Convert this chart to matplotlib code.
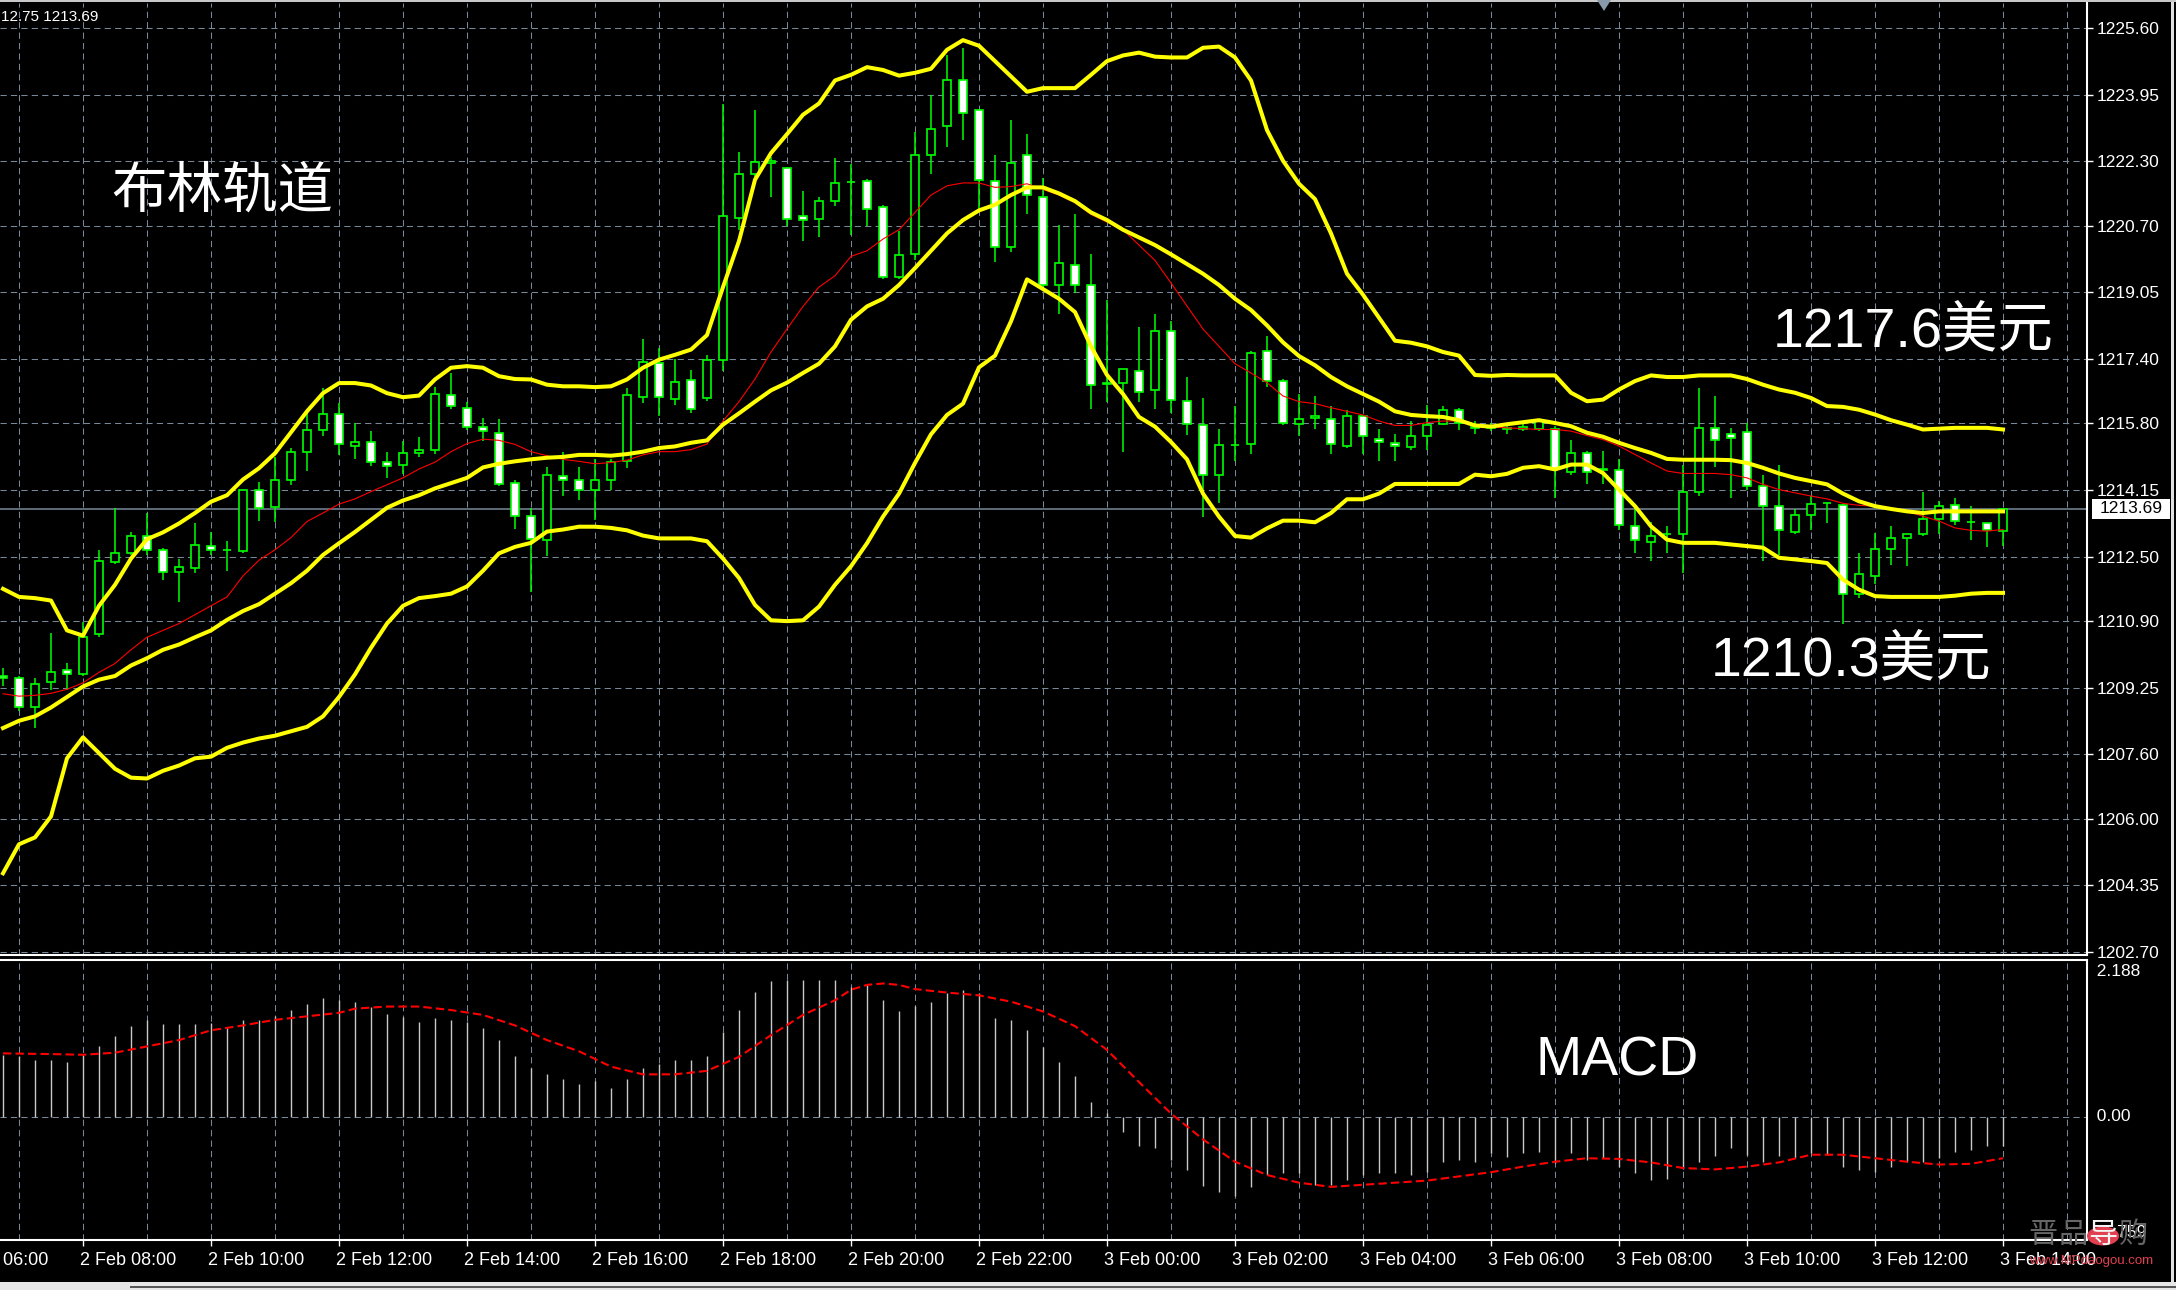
import numpy as np
import matplotlib
matplotlib.use('Agg')
import matplotlib.pyplot as plt
from matplotlib.patches import Rectangle, Polygon, Circle
from matplotlib.transforms import blended_transform_factory

# XAUUSD M15, 2 Feb 06:45 -> 3 Feb 14:00
opens = [1209.55, 1209.50, 1208.76, 1209.39, 1209.70, 1209.59, 1210.58, 1212.37, 1212.58, 1213.02,
         1212.67, 1212.12, 1212.21, 1212.77, 1212.67, 1212.65, 1214.15, 1213.74, 1214.39, 1215.09,
         1215.63, 1216.04, 1215.24, 1215.35, 1214.84, 1214.78, 1215.06, 1215.15, 1216.50, 1216.19,
         1215.70, 1215.56, 1214.32, 1213.51, 1212.90, 1214.50, 1214.39, 1214.15, 1214.39, 1214.86,
         1216.45, 1217.30, 1216.40, 1216.88, 1216.43, 1217.38, 1220.89, 1221.98, 1222.25, 1222.12,
         1220.95, 1220.87, 1221.32, 1221.79, 1221.81, 1221.17, 1219.44, 1219.99, 1222.45, 1223.16,
         1224.30, 1223.56, 1221.81, 1220.18, 1222.45, 1221.41, 1219.23, 1219.73, 1219.23, 1216.78,
         1216.81, 1217.10, 1216.62, 1218.09, 1216.36, 1215.77, 1214.53, 1215.27, 1215.29, 1217.59,
         1216.86, 1215.79, 1215.93, 1215.91, 1215.25, 1215.98, 1215.41, 1215.31, 1215.22, 1215.48,
         1215.79, 1216.14, 1215.69, 1215.68, 1215.65, 1215.67, 1215.65, 1215.65, 1214.59, 1215.07,
         1214.66, 1214.64, 1213.25, 1212.86, 1213.05, 1213.05, 1214.10, 1215.69, 1215.53, 1215.58,
         1214.24, 1213.75, 1213.10, 1213.54, 1213.82, 1213.79, 1211.56, 1212.02, 1212.68, 1212.96,
         1213.05, 1213.42, 1213.79, 1213.35, 1213.34, 1213.13]
highs = [1209.75, 1209.55, 1209.50, 1210.60, 1209.85, 1210.89, 1212.67, 1213.71, 1213.12, 1213.58,
         1212.70, 1212.43, 1213.32, 1213.10, 1212.89, 1214.16, 1214.34, 1214.97, 1215.19, 1216.06,
         1216.68, 1216.30, 1215.80, 1215.61, 1215.10, 1215.37, 1215.47, 1216.70, 1217.05, 1216.32,
         1215.93, 1215.90, 1214.40, 1213.71, 1214.71, 1215.10, 1214.71, 1214.93, 1214.93, 1216.68,
         1217.88, 1217.67, 1217.40, 1217.13, 1217.50, 1223.71, 1222.52, 1223.56, 1222.40, 1222.15,
         1221.55, 1221.41, 1222.39, 1222.22, 1221.85, 1221.22, 1220.56, 1223.02, 1223.94, 1224.92,
         1225.10, 1223.60, 1222.45, 1223.31, 1222.97, 1221.88, 1220.72, 1220.99, 1219.99, 1218.85,
         1217.15, 1218.19, 1218.50, 1218.35, 1216.95, 1216.43, 1215.67, 1216.24, 1217.60, 1217.96,
         1216.90, 1216.52, 1216.48, 1216.24, 1216.14, 1216.00, 1215.67, 1215.53, 1215.86, 1216.26,
         1216.24, 1216.18, 1215.85, 1215.80, 1215.75, 1215.80, 1215.90, 1215.73, 1215.40, 1215.11,
         1215.11, 1214.91, 1213.79, 1213.35, 1213.27, 1214.78, 1216.68, 1216.49, 1215.69, 1215.81,
         1214.51, 1214.78, 1213.67, 1214.00, 1213.84, 1213.80, 1212.58, 1213.09, 1213.25, 1213.05,
         1214.10, 1213.87, 1213.96, 1213.75, 1213.34, 1213.69]
lows = [1209.30, 1208.67, 1208.24, 1209.19, 1209.19, 1209.54, 1210.50, 1212.32, 1212.53, 1212.54,
        1211.91, 1211.37, 1212.10, 1212.54, 1212.15, 1212.60, 1213.38, 1213.35, 1214.28, 1214.63,
        1215.50, 1215.02, 1214.93, 1214.74, 1214.45, 1214.54, 1214.97, 1215.05, 1216.15, 1215.64,
        1215.37, 1214.24, 1213.19, 1211.63, 1212.51, 1213.99, 1213.89, 1213.41, 1214.15, 1214.70,
        1216.30, 1215.98, 1216.25, 1216.05, 1216.35, 1217.10, 1220.60, 1221.90, 1221.41, 1220.70,
        1220.32, 1220.41, 1221.19, 1220.46, 1220.70, 1219.37, 1219.37, 1219.84, 1221.97, 1222.64,
        1222.83, 1221.08, 1219.80, 1220.04, 1220.98, 1219.18, 1218.52, 1219.04, 1216.15, 1216.34,
        1215.10, 1216.34, 1216.15, 1216.06, 1215.51, 1213.49, 1213.82, 1214.86, 1215.05, 1216.70,
        1215.77, 1215.48, 1215.67, 1215.05, 1215.20, 1215.05, 1214.86, 1214.86, 1215.15, 1215.15,
        1215.77, 1215.63, 1215.55, 1215.60, 1215.55, 1215.60, 1215.60, 1213.96, 1214.51, 1214.29,
        1214.29, 1213.17, 1212.59, 1212.39, 1212.59, 1212.10, 1214.00, 1214.72, 1213.96, 1214.16,
        1212.39, 1212.55, 1213.05, 1213.17, 1213.34, 1210.82, 1211.48, 1211.81, 1212.30, 1212.26,
        1213.01, 1213.05, 1213.29, 1212.92, 1212.74, 1212.75]
closes = [1209.50, 1208.76, 1209.35, 1209.65, 1209.60, 1210.50, 1212.38, 1212.58, 1213.02, 1212.67,
          1212.12, 1212.23, 1212.78, 1212.67, 1212.67, 1214.16, 1213.70, 1214.41, 1215.10, 1215.64,
          1216.04, 1215.30, 1215.35, 1214.84, 1214.74, 1215.06, 1215.15, 1216.52, 1216.23, 1215.71,
          1215.60, 1214.30, 1213.51, 1212.93, 1214.51, 1214.41, 1214.15, 1214.39, 1214.84, 1216.50,
          1217.31, 1216.45, 1216.82, 1216.15, 1217.38, 1220.94, 1221.98, 1222.28, 1222.30, 1220.87,
          1220.85, 1221.32, 1221.76, 1221.79, 1221.12, 1219.44, 1219.98, 1222.45, 1223.09, 1224.30,
          1223.50, 1221.84, 1220.18, 1222.26, 1221.45, 1219.23, 1219.77, 1219.23, 1216.76, 1216.81,
          1217.15, 1216.57, 1218.09, 1216.39, 1215.79, 1214.53, 1215.27, 1215.27, 1217.55, 1216.86,
          1215.82, 1215.91, 1215.98, 1215.29, 1215.98, 1215.48, 1215.34, 1215.25, 1215.48, 1215.77,
          1216.14, 1215.81, 1215.72, 1215.70, 1215.69, 1215.71, 1215.85, 1214.66, 1215.07, 1214.59,
          1214.64, 1213.29, 1212.91, 1213.01, 1213.05, 1214.10, 1215.69, 1215.38, 1215.44, 1214.24,
          1213.75, 1213.17, 1213.54, 1213.81, 1213.84, 1211.56, 1212.06, 1212.68, 1212.96, 1213.05,
          1213.42, 1213.75, 1213.38, 1213.35, 1213.17, 1213.69]

bb_upper = [1211.70, 1211.50, 1211.47, 1211.41, 1210.67, 1210.54, 1211.28, 1211.80, 1212.45, 1212.93,
            1213.10, 1213.32, 1213.58, 1213.86, 1214.02, 1214.41, 1214.69, 1215.06, 1215.58, 1216.10,
            1216.55, 1216.80, 1216.80, 1216.74, 1216.55, 1216.45, 1216.49, 1216.89, 1217.18, 1217.22,
            1217.18, 1216.97, 1216.90, 1216.89, 1216.76, 1216.72, 1216.72, 1216.70, 1216.72, 1216.89,
            1217.18, 1217.38, 1217.50, 1217.63, 1217.99, 1219.18, 1220.32, 1221.84, 1222.50, 1222.97,
            1223.45, 1223.73, 1224.30, 1224.44, 1224.63, 1224.56, 1224.42, 1224.49, 1224.59, 1225.06,
            1225.30, 1225.16, 1224.78, 1224.40, 1224.02, 1224.11, 1224.11, 1224.11, 1224.44, 1224.78,
            1224.92, 1224.99, 1224.89, 1224.87, 1224.87, 1225.11, 1225.14, 1224.87, 1224.30, 1223.07,
            1222.31, 1221.74, 1221.36, 1220.51, 1219.51, 1218.99, 1218.42, 1217.85, 1217.80, 1217.71,
            1217.57, 1217.48, 1217.00, 1216.98, 1217.00, 1216.99, 1216.99, 1216.99, 1216.56, 1216.35,
            1216.39, 1216.64, 1216.85, 1216.99, 1216.95, 1216.95, 1216.99, 1216.99, 1216.99, 1216.90,
            1216.76, 1216.64, 1216.56, 1216.43, 1216.23, 1216.21, 1216.14, 1216.02, 1215.88, 1215.77,
            1215.65, 1215.67, 1215.69, 1215.69, 1215.69, 1215.65]
bb_middle = [1208.25, 1208.43, 1208.54, 1208.76, 1209.02, 1209.28, 1209.45, 1209.54, 1209.80, 1209.98,
             1210.19, 1210.32, 1210.50, 1210.67, 1210.93, 1211.15, 1211.32, 1211.58, 1211.84, 1212.15,
             1212.54, 1212.83, 1213.11, 1213.41, 1213.71, 1213.89, 1214.02, 1214.19, 1214.32, 1214.45,
             1214.71, 1214.80, 1214.86, 1214.91, 1214.95, 1214.97, 1215.02, 1215.02, 1215.00, 1215.04,
             1215.10, 1215.19, 1215.23, 1215.32, 1215.38, 1215.77, 1216.05, 1216.34, 1216.62, 1216.81,
             1217.05, 1217.28, 1217.71, 1218.37, 1218.70, 1218.89, 1219.23, 1219.65, 1220.08, 1220.51,
             1220.84, 1221.08, 1221.22, 1221.46, 1221.65, 1221.65, 1221.50, 1221.31, 1221.03, 1220.84,
             1220.60, 1220.41, 1220.22, 1219.99, 1219.75, 1219.51, 1219.23, 1218.89, 1218.61, 1218.23,
             1217.81, 1217.47, 1217.24, 1216.95, 1216.72, 1216.53, 1216.34, 1216.10, 1216.01, 1215.98,
             1215.96, 1215.88, 1215.75, 1215.72, 1215.78, 1215.83, 1215.88, 1215.81, 1215.73, 1215.57,
             1215.47, 1215.32, 1215.19, 1215.07, 1214.92, 1214.90, 1214.90, 1214.90, 1214.89, 1214.82,
             1214.70, 1214.56, 1214.45, 1214.37, 1214.29, 1214.06, 1213.87, 1213.75, 1213.68, 1213.62,
             1213.58, 1213.62, 1213.62, 1213.62, 1213.62, 1213.62]
bb_lower = [1204.65, 1205.37, 1205.54, 1206.06, 1207.50, 1208.02, 1207.63, 1207.24, 1207.02, 1207.00,
            1207.19, 1207.32, 1207.50, 1207.54, 1207.76, 1207.89, 1207.99, 1208.06, 1208.17, 1208.28,
            1208.54, 1209.02, 1209.58, 1210.24, 1210.84, 1211.28, 1211.47, 1211.52, 1211.58, 1211.76,
            1212.15, 1212.58, 1212.74, 1212.84, 1213.12, 1213.17, 1213.24, 1213.24, 1213.21, 1213.15,
            1213.02, 1212.95, 1212.95, 1212.95, 1212.88, 1212.45, 1211.97, 1211.30, 1210.92, 1210.90,
            1210.92, 1211.26, 1211.80, 1212.26, 1212.83, 1213.49, 1214.06, 1214.82, 1215.53, 1216.01,
            1216.29, 1217.19, 1217.48, 1218.33, 1219.37, 1219.13, 1218.89, 1218.56, 1217.71, 1217.00,
            1216.53, 1215.96, 1215.72, 1215.34, 1214.91, 1214.06, 1213.49, 1213.01, 1212.97, 1213.20,
            1213.39, 1213.39, 1213.35, 1213.58, 1213.92, 1213.92, 1214.06, 1214.30, 1214.30, 1214.30,
            1214.30, 1214.30, 1214.53, 1214.49, 1214.55, 1214.70, 1214.74, 1214.66, 1214.78, 1214.78,
            1214.57, 1214.16, 1213.75, 1213.25, 1212.92, 1212.84, 1212.84, 1212.84, 1212.80, 1212.76,
            1212.72, 1212.47, 1212.43, 1212.39, 1212.34, 1211.93, 1211.68, 1211.52, 1211.50, 1211.50,
            1211.50, 1211.50, 1211.53, 1211.58, 1211.60, 1211.60]
ma_red = [1209.10, 1209.04, 1209.06, 1209.11, 1209.21, 1209.37, 1209.63, 1209.85, 1210.19, 1210.50,
          1210.67, 1210.84, 1211.06, 1211.28, 1211.50, 1212.02, 1212.41, 1212.67, 1212.97, 1213.37,
          1213.58, 1213.80, 1213.93, 1214.11, 1214.28, 1214.45, 1214.67, 1214.84, 1215.10, 1215.30,
          1215.41, 1215.38, 1215.28, 1215.10, 1215.00, 1214.91, 1214.86, 1214.80, 1214.83, 1214.89,
          1215.02, 1215.10, 1215.10, 1215.15, 1215.29, 1215.86, 1216.34, 1216.90, 1217.57, 1218.14,
          1218.70, 1219.18, 1219.46, 1219.94, 1220.08, 1220.37, 1220.60, 1221.03, 1221.46, 1221.69,
          1221.76, 1221.76, 1221.65, 1221.67, 1221.74, 1221.60, 1221.46, 1221.27, 1220.98, 1220.79,
          1220.60, 1220.22, 1219.84, 1219.28, 1218.71, 1218.14, 1217.71, 1217.28, 1217.05, 1216.81,
          1216.48, 1216.34, 1216.29, 1216.19, 1216.10, 1216.01, 1215.86, 1215.75, 1215.75, 1215.82,
          1215.86, 1215.86, 1215.77, 1215.72, 1215.69, 1215.67, 1215.65, 1215.65, 1215.61, 1215.50,
          1215.40, 1215.24, 1215.03, 1214.82, 1214.62, 1214.56, 1214.56, 1214.56, 1214.53, 1214.45,
          1214.29, 1214.16, 1214.08, 1214.00, 1213.93, 1213.82, 1213.77, 1213.75, 1213.68, 1213.62,
          1213.50, 1213.38, 1213.21, 1213.15, 1213.13, 1213.17]

macd_hist = [0.89, 0.87, 0.82, 0.82, 0.78, 0.89, 1.02, 1.16, 1.30, 1.39,
             1.33, 1.33, 1.33, 1.34, 1.28, 1.39, 1.39, 1.44, 1.53, 1.62,
             1.70, 1.68, 1.64, 1.58, 1.47, 1.43, 1.36, 1.41, 1.39, 1.36,
             1.27, 1.10, 0.87, 0.70, 0.62, 0.55, 0.47, 0.51, 0.41, 0.55,
             0.70, 0.76, 0.82, 0.82, 0.87, 1.21, 1.53, 1.79, 1.95, 1.96,
             1.96, 1.96, 1.96, 1.86, 1.89, 1.67, 1.51, 1.59, 1.65, 1.77,
             1.82, 1.77, 1.41, 1.39, 1.25, 1.00, 0.79, 0.59, 0.22, 0.05,
             -0.21, -0.42, -0.44, -0.62, -0.76, -0.99, -1.07, -1.13, -1.00, -0.83,
             -0.80, -0.80, -0.97, -0.97, -0.90, -0.83, -0.80, -0.80, -0.83, -0.78,
             -0.65, -0.62, -0.64, -0.52, -0.57, -0.52, -0.50, -0.66, -0.52, -0.62,
             -0.59, -0.71, -0.80, -0.90, -0.89, -0.75, -0.65, -0.56, -0.45, -0.54,
             -0.64, -0.56, -0.59, -0.52, -0.54, -0.71, -0.76, -0.78, -0.71, -0.64,
             -0.65, -0.59, -0.50, -0.47, -0.42, -0.42]
signal_bar = [0, 3, 5, 7, 9, 11, 13, 15, 17, 19, 21, 22, 24, 26, 28, 30, 32, 34, 36, 38,
              40, 42, 44, 46, 48, 50, 52, 53, 54, 55, 56, 57, 59, 61, 63, 65, 67, 69, 71, 73,
              75, 77, 79, 81, 83, 85, 87, 89, 91, 93, 95, 97, 99, 101, 103, 105, 107, 109, 111, 113,
              115, 117, 119, 121, 123, 125]
signal_val = [0.91, 0.90, 0.89, 0.92, 1.01, 1.10, 1.24, 1.31, 1.39, 1.44, 1.49, 1.55, 1.58, 1.58, 1.53, 1.46,
              1.31, 1.10, 0.94, 0.72, 0.61, 0.61, 0.66, 0.86, 1.17, 1.46, 1.67, 1.82, 1.89, 1.91,
              1.89, 1.83, 1.78, 1.74, 1.65, 1.51, 1.30, 0.96, 0.50, 0.05, -0.32, -0.64, -0.83, -0.94,
              -1.00, -0.97, -0.94, -0.91, -0.85, -0.79, -0.71, -0.64, -0.59, -0.60, -0.65, -0.73,
              -0.75, -0.71, -0.65, -0.54, -0.54, -0.59, -0.64, -0.68, -0.67, -0.59]

price_levels = [1225.60, 1223.95, 1222.30, 1220.70, 1219.05, 1217.40, 1215.80, 1214.15,
                1212.50, 1210.90, 1209.25, 1207.60, 1206.00, 1204.35, 1202.70]
time_labels = ['2 Feb 06:00', '2 Feb 08:00', '2 Feb 10:00', '2 Feb 12:00', '2 Feb 14:00',
               '2 Feb 16:00', '2 Feb 18:00', '2 Feb 20:00', '2 Feb 22:00', '3 Feb 00:00',
               '3 Feb 02:00', '3 Feb 04:00', '3 Feb 06:00', '3 Feb 08:00', '3 Feb 10:00',
               '3 Feb 12:00', '3 Feb 14:00']
time_label_bar = [-3 + 8 * i for i in range(len(time_labels))]
hour_grid_bar = [1 + 4 * i for i in range(33)]
bid = 1213.69

W, H = 2176, 1290
def fx(px):
    return px / W
def fy(py):
    return 1 - py / H

GRID = '#778899'
fig = plt.figure(figsize=(W / 100, H / 100), dpi=100, facecolor='black')
ax = fig.add_axes([0, fy(955), 2087 / W, (955 - 3) / H], facecolor='black')
ax2 = fig.add_axes([0, fy(1240), 2087 / W, (1240 - 960) / H], facecolor='black')

x = np.arange(len(opens))
o = np.array(opens); c = np.array(closes)
xlim = (-3 / 16, (2087 - 3) / 16)

# ---- price panel
for lv in price_levels:
    ax.axhline(lv, color=GRID, lw=0.75, ls=(0, (6, 4)), zorder=1)
for k in hour_grid_bar:
    ax.axvline(k, color=GRID, lw=0.75, ls=(0, (6, 4)), zorder=1)
ax.axhline(bid, color=GRID, lw=1.1, zorder=1.5)

ax.vlines(x, lows, highs, color='#00ff00', lw=1.1, zorder=2)
bull = c >= o
ax.bar(x[bull], (c - o)[bull], bottom=o[bull], width=0.45, color='black',
       edgecolor='#00ff00', linewidth=1.2, zorder=3)
ax.bar(x[~bull], (c - o)[~bull], bottom=o[~bull], width=0.45, color='white',
       edgecolor='#00ff00', linewidth=1.2, zorder=3)

ax.plot(x, ma_red, color='#ff0000', lw=0.8, zorder=4)
for band in (bb_upper, bb_middle, bb_lower):
    ax.plot(x, band, color='#ffff00', lw=2.9, zorder=5, solid_joinstyle='round')

ax.set_xlim(*xlim)
ax.set_ylim(1202.625, 1226.22)
ax.yaxis.tick_right()
ax.set_yticks(price_levels)
ax.set_yticklabels(['%.2f' % v for v in price_levels])
ax.tick_params(axis='y', colors='white', length=4, width=1, pad=3, labelsize=12.5,
               direction='out')
for t in ax.get_yticklabels():
    t.set_fontfamily('Liberation Sans')
ax.set_xticks([])
for side in ('left', 'top'):
    ax.spines[side].set_visible(False)
for side in ('right', 'bottom'):
    ax.spines[side].set_color('white')
    ax.spines[side].set_linewidth(1.5)

cjk = ['Liberation Sans', 'Noto Sans CJK SC']
fig.text(fx(111), fy(194), '布林轨道', color='white', fontsize=40, family=cjk,
         ha='left', va='center')
fig.text(fx(1773), fy(332), '1217.6美元', color='white', fontsize=40, family=cjk,
         ha='left', va='center')
fig.text(fx(1711), fy(661), '1210.3美元', color='white', fontsize=40, family=cjk,
         ha='left', va='center')
fig.text(fx(1536), fy(1061), 'MACD', color='white', fontsize=40, family=cjk,
         ha='left', va='center')

# bid box
fig.add_artist(Rectangle((fx(2092), fy(519)), 78 / W, 20 / H, transform=fig.transFigure,
                         facecolor='white', edgecolor='none'))
fig.text(fx(2131), fy(509), '%.2f' % bid, color='black', fontsize=12.5,
         family='Liberation Sans', ha='center', va='center')
fig.text(fx(1), fy(17), '12.75 1213.69', color='white', fontsize=11,
         family='Liberation Sans', ha='left', va='center')

# ---- MACD panel
for k in hour_grid_bar:
    ax2.axvline(k, color=GRID, lw=0.75, ls=(0, (6, 4)), zorder=1)
ax2.axhline(0, color=GRID, lw=0.75, ls=(0, (6, 4)), zorder=1)
ax2.vlines(x, 0, macd_hist, color='#c8c8c8', lw=1.0, zorder=2)
ax2.plot(signal_bar, signal_val, color='#ff0000', lw=1.5, ls=(0, (4, 2)), zorder=3)
ax2.set_xlim(*xlim)
ax2.set_ylim(-1.760, 2.246)
ax2.set_yticks([])
ax2.set_xticks([k for k in time_label_bar if k >= 0])
ax2.set_xticklabels([])
ax2.tick_params(axis='x', colors='white', length=4, width=1, direction='out')
ax2.spines['left'].set_visible(False)
for side in ('right', 'bottom', 'top'):
    ax2.spines[side].set_color('white')
    ax2.spines[side].set_linewidth(1.5)

tr = blended_transform_factory(ax2.transAxes, ax2.transData)
ax2.text(1.0, 2.188, '  2.188', transform=tr, color='white', fontsize=12.5,
         family='Liberation Sans', ha='left', va='top')
ax2.text(1.0, 0, '  0.00', transform=tr, color='white', fontsize=12.5,
         family='Liberation Sans', ha='left', va='center')
ax2.text(1.0, -1.759, '  -1.759', transform=tr, color='white', fontsize=12.5,
         family='Liberation Sans', ha='left', va='bottom')

for k, lab in zip(time_label_bar, time_labels):
    ax2.annotate(lab, xy=(k, 0), xycoords=('data', 'axes fraction'), xytext=(-3, -12),
                 textcoords='offset pixels', color='white', fontsize=13,
                 family='Liberation Sans', ha='left', va='top', annotation_clip=False)

# frame bits and chart-shift marker
fig.add_artist(Rectangle((0, fy(2)), 1, 2 / H, transform=fig.transFigure,
                         facecolor='#c8c8c8', edgecolor='none'))
fig.add_artist(Rectangle((fx(2171), fy(1282)), 3 / W, 1280 / H, transform=fig.transFigure,
                         facecolor='#e0e0e0', edgecolor='none'))
fig.add_artist(Rectangle((0, 0), 1, 8 / H, transform=fig.transFigure,
                         facecolor='#e6e6e6', edgecolor='none'))
fig.add_artist(Rectangle((fx(130), fy(1288)), 1, 2 / H, transform=fig.transFigure,
                         facecolor='#555555', edgecolor='none'))
fig.add_artist(Polygon([(fx(1597), fy(0)), (fx(1611), fy(0)), (fx(1604), fy(11))],
                       closed=True, transform=fig.transFigure, facecolor='#8899aa',
                       edgecolor='none'))

# watermark
wm_chars = ['晋', '品', '导', '购']
wm_x = [2043, 2073, 2103, 2133]
fig.add_artist(Circle((fx(2103), fy(1236)), 16 / W, transform=fig.transFigure,
                      facecolor='#e0404f', edgecolor='none'))
for ch, px in zip(wm_chars, wm_x):
    fig.text(fx(px), fy(1235), ch, color='#f4f4f4' if ch == '导' else '#666666',
             fontsize=21, family=['Noto Sans CJK SC'], ha='center', va='center')
fig.text(fx(2091), fy(1261), 'www.MPdaogou.com', color='#e0404f', fontsize=9.5,
         family='Liberation Sans', ha='center', va='center')

fig.savefig('out.png', dpi=100, facecolor='black')
